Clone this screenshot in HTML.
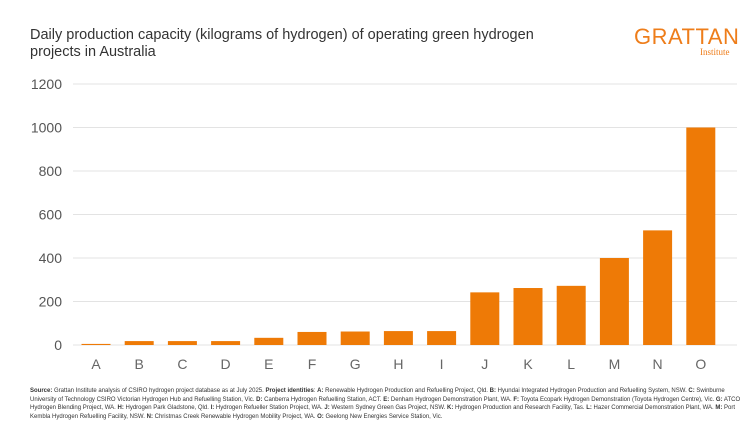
<!DOCTYPE html>
<html><head><meta charset="utf-8"><style>
body{margin:0;background:#fff;font-family:"Liberation Sans",sans-serif;}
#wrap{position:relative;width:754px;height:424px;overflow:hidden;}
.title{position:absolute;left:30px;top:27px;font-size:14.5px;line-height:17px;color:#333;width:525px;}
.logo{position:absolute;left:634px;top:24px;color:#ee7d1a;font-size:22px;letter-spacing:0.5px;}
.inst{position:absolute;left:700px;top:47px;color:#ee7d1a;font-size:9px;font-family:"Liberation Serif",serif;}
.foot{position:absolute;left:30px;top:387px;width:712px;font-size:6px;line-height:8.6px;color:#333;}
</style></head><body>
<div id="wrap">
<div class="title">Daily production capacity (kilograms of hydrogen) of operating green hydrogen projects in Australia</div>
<div class="logo">GRATTAN</div>
<div class="inst">Institute</div>
<svg id="svg" width="754" height="424" style="position:absolute;left:0;top:0"></svg>
<div class="foot"><b>Source:</b> Grattan Institute analysis of CSIRO hydrogen project database as at July 2025. <b>Project identities</b>: <b>A:</b> Renewable Hydrogen Production and Refuelling Project, Qld. <b>B:</b> Hyundai Integrated Hydrogen Production and Refuelling System, NSW. <b>C:</b> Swinburne University of Technology CSIRO Victorian Hydrogen Hub and Refuelling Station, Vic. <b>D:</b> Canberra Hydrogen Refuelling Station, ACT. <b>E:</b> Denham Hydrogen Demonstration Plant, WA. <b>F:</b> Toyota Ecopark Hydrogen Demonstration (Toyota Hydrogen Centre), Vic. <b>G:</b> ATCO Hydrogen Blending Project, WA. <b>H:</b> Hydrogen Park Gladstone, Qld. <b>I:</b> Hydrogen Refueller Station Project, WA. <b>J:</b> Western Sydney Green Gas Project, NSW. <b>K:</b> Hydrogen Production and Research Facility, Tas. <b>L:</b> Hazer Commercial Demonstration Plant, WA. <b>M:</b> Port Kembla Hydrogen Refuelling Facility, NSW. <b>N:</b> Christmas Creek Renewable Hydrogen Mobility Project, WA. <b>O:</b> Geelong New Energies Service Station, Vic.</div>
</div>
<script>
const categories=["A","B","C","D","E","F","G","H","I","J","K","L","M","N","O"];
const values=[5,18,18,18,33,60,62,64,64,242,262,272,400,527,1000];
const ticks=[0,200,400,600,800,1000,1200];
const svg=document.getElementById('svg');
const NS='http://www.w3.org/2000/svg';
const y=v=>345-v*(345-84)/1200;
const x=i=>96+i*43.2;
function mk(t,a){const e=document.createElementNS(NS,t);for(const k in a)e.setAttribute(k,a[k]);svg.appendChild(e);return e;}
ticks.forEach(t=>{
 const l=mk('line',{x1:73,x2:737,y1:y(t),y2:y(t),stroke:'#e3e3e3','stroke-width':1});
 
 
 const tx=mk('text',{x:62,y:y(t)+5,'text-anchor':'end','font-size':14,fill:'#555','font-family':'Liberation Sans, sans-serif'});
 tx.textContent=t;
 
 
});
categories.forEach((c,i)=>{
 const r=mk('rect',{x:x(i)-14.5,y:y(values[i]),width:29,height:345-y(values[i]),fill:'#ee7a06'});
 
 
 const t=mk('text',{x:x(i),y:369,'text-anchor':'middle','font-size':14,fill:'#666','font-family':'Liberation Sans, sans-serif'});
 t.textContent=c;
 
 
});
</script>
</body></html>
